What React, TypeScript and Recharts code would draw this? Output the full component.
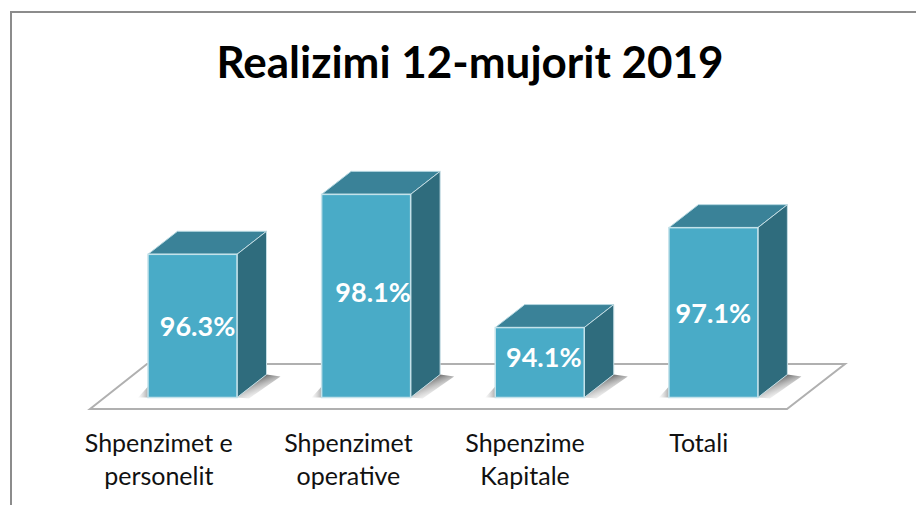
import React from "react";
import { BarChart, Bar, XAxis, YAxis, LabelList, Customized } from "recharts";

const categories = ["Shpenzimet e personelit", "Shpenzimet operative", "Shpenzime Kapitale", "Totali"];
const tickLines = [["Shpenzimet e", "personelit"], ["Shpenzimet", "operative"], ["Shpenzime", "Kapitale"], ["Totali"]];
const values = [96.3, 98.1, 94.1, 97.1];
const title = "Realizimi 12-mujorit 2019";
const data = categories.map((name, i) => ({ name, value: values[i] }));

const tickShift = [-34, -18, -15, -15];
const labelShift = [[5, 0], [7, -4], [4, -6], [0, 0]];
const DX = 29.5;
const DY = 23;
const FONT = "Lato, Carlito, sans-serif";

const Bar3D = (p: any) => {
  const { x, y, width: w, height: h } = p;
  const b = y + h;
  const r = x + w;
  return (
    <g>
      <polygon points={`${r},${b} ${r + DX},${b - DY} ${r + DX + 14},${b - DY + 2} ${r + 12},${b + 1}`} fill="url(#shadowR)" />
      <polygon points={`${x - 10},${b} ${x},${b - 11} ${x},${b}`} fill="url(#shadowL)" />
      <polygon points={`${x},${y} ${x + DX},${y - DY} ${r + DX},${y - DY} ${r},${y}`} fill="#3a8298" stroke="#b5d7e0" strokeWidth={1} />
      <polygon points={`${r},${y} ${r + DX},${y - DY} ${r + DX},${b - DY} ${r},${b}`} fill="#2f6c7d" stroke="#c4dde4" strokeWidth={1} />
      <rect x={x} y={y} width={w} height={h} fill="#49abc7" stroke="#c4e2ea" strokeWidth={1.5} />
    </g>
  );
};

const Backdrop = () => (
  <g>
    <defs>
      <linearGradient id="shadowR" x1="0.3" y1="0.3" x2="0.7" y2="0.85">
        <stop offset="0" stopColor="#666" stopOpacity={0.9} />
        <stop offset="1" stopColor="#ccc" stopOpacity={0.05} />
      </linearGradient>
      <linearGradient id="shadowL" x1="1" y1="0" x2="0" y2="0">
        <stop offset="0" stopColor="#888" stopOpacity={0.7} />
        <stop offset="1" stopColor="#ccc" stopOpacity={0.1} />
      </linearGradient>
    </defs>
    <path d="M11,505 L11,12 L916,12" fill="none" stroke="#8c8c8c" strokeWidth={2} />
    <polygon points="90,409 147,364 845,364 787,409" fill="#fff" stroke="#b0b0b0" strokeWidth={2} />
    <text x={470} y={78} textAnchor="middle" fontFamily={FONT} fontWeight={700} fontSize={44} fill="#000">
      {title}
    </text>
  </g>
);

const Tick = (p: any) => {
  const { x, index } = p;
  const lines = tickLines[index];
  return (
    <text textAnchor="middle" fontFamily={FONT} fontSize={25} fill="#111">
      {lines.map((l: string, i: number) => (
        <tspan key={i} x={x + tickShift[index]} y={452 + i * 33}>{l}</tspan>
      ))}
    </text>
  );
};

const ValueLabel = (p: any) => {
  const { x, y, width, height, value, index } = p;
  const [dx, dy] = labelShift[index];
  return (
    <text x={x + width / 2 + dx} y={y + height / 2 + dy} textAnchor="middle" dominantBaseline="central"
      fontFamily={FONT} fontWeight={700} fontSize={27} fill="#fff">
      {`${value}%`}
    </text>
  );
};

export default function App() {
  return (
    <div style={{ position: "absolute", left: 0, top: 0, background: "#fff" }}>
      <BarChart width={916} height={505} data={data} barSize={89} margin={{ top: 164.4, right: 115.5, bottom: 0, left: 106 }}>
        <Customized component={Backdrop} />
        <YAxis hide domain={[92, 99]} />
        <XAxis dataKey="name" height={107.5} axisLine={false} tickLine={false} tick={<Tick />} interval={0} />
        <Bar dataKey="value" shape={<Bar3D />} isAnimationActive={false}>
          <LabelList dataKey="value" content={<ValueLabel />} />
        </Bar>
      </BarChart>
    </div>
  );
}
